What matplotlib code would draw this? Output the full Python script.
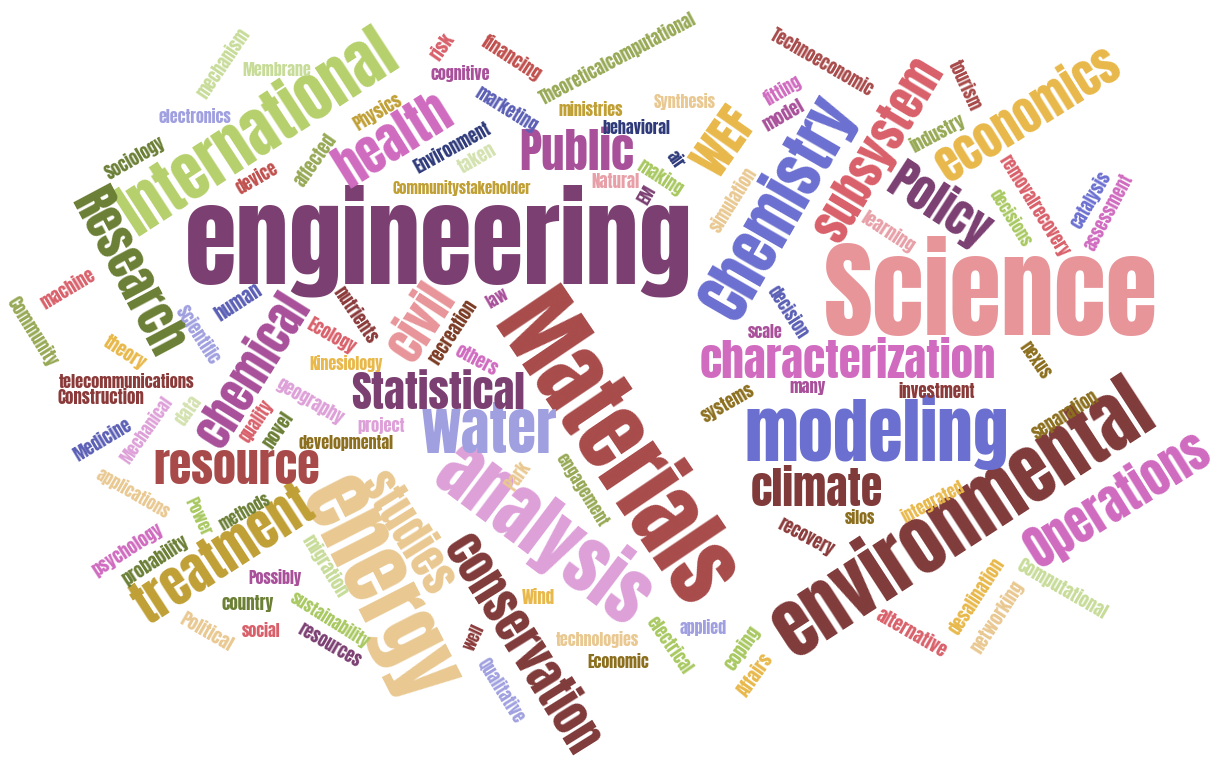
import matplotlib
matplotlib.use("Agg")
import matplotlib.pyplot as plt
from matplotlib import font_manager as fm
from matplotlib.textpath import TextPath
from matplotlib.font_manager import FontProperties

# ---------------- data: words and their weights (reference em size, px) -------------
words = [
    "engineering", "Science", "Materials", "environmental", "energy", "analysis",
    "modeling", "International", "Chemistry", "water", "health", "treatment",
    "Operations", "Public", "Research", "WEF", "economics", "subsystem", "Policy",
    "civil", "chemical", "resource", "studies", "conservation", "characterization",
    "Statistical", "climate",
    "Communitystakeholder", "Synthesis", "mechanism", "Membrane", "electronics",
    "Sociology", "device", "affected", "Physics", "risk", "financing", "cognitive",
    "Theoreticalcomputational", "marketing", "ministries", "behavioral", "Environment",
    "taken", "Natural", "air", "making", "EM", "simulation", "Technoeconomic",
    "fitting", "model", "learning", "tourism", "industry", "removalrecovery",
    "decisions", "catalysis", "assessment", "machine", "Community", "theory",
    "Scientific", "human", "telecommunications", "Construction", "Medicine",
    "Mechanical", "data", "quality", "novel", "geography", "developmental", "project",
    "Kinesiology", "Ecology", "nutrients", "recreation", "law", "others", "Park",
    "engagement", "decision", "scale", "many", "systems", "investment", "nexus",
    "separation", "integrated", "silos", "recovery", "alternative", "desalination",
    "networking", "Computational", "coping", "Affairs", "applied", "electrical",
    "technologies", "Economic", "Wind", "well", "Qualitative", "migration",
    "sustainability", "resources", "methods", "Power", "applications", "psychology",
    "probability", "Possibly", "country", "Political", "social",
]
weights = [
    106, 106, 91, 75, 85, 73,
    71, 62, 60, 59, 50, 51,
    48, 47, 48, 46, 47, 46, 46,
    47, 46, 46, 45, 47, 45,
    43, 44,
    15, 16, 17, 16, 16,
    17, 17, 18, 17, 18, 18, 16,
    17, 17, 16, 16, 17,
    18, 17, 16, 17, 16, 17, 17,
    17, 18, 18, 17, 18, 17,
    16.5, 17, 17, 17.5, 17.5, 18,
    17.5, 19, 16.5, 17, 17.5,
    16.5, 18, 17, 18, 17.5, 16, 16.5,
    16, 17, 17.5, 17.5, 16, 17.5, 17,
    16.5, 17, 16, 16.5, 17, 17, 17,
    17.5, 16.5, 16, 17, 18, 17.5,
    18, 17.5, 18, 18.5, 16, 17,
    16, 16, 17, 16, 17, 18,
    16.5, 17, 16, 16, 16.5, 17.5,
    17.5, 16, 17, 18, 16,
]

# ---------------- palette / layout (styles & placement, kept apart from data) --------
PURPLE, PINK, BRICK, MAROON = "#7B3F72", "#E8959A", "#A84A4A", "#803A3A"
BLUE, LIME, ORCHIDL, TAN = "#6B6FD0", "#B5D06B", "#DDA0D8", "#E9C891"
LAV, ORCHID, MAGENTA, OLIVE = "#A0A0E0", "#D06BC0", "#A8509A", "#6B7F35"
MUSTARD, GOLD, CORAL, NAVY = "#C0A035", "#E8B84A", "#D9606A", "#2E3A7A"
PALEGREEN, GREEN, OLIVEG, DKMUST = "#C8DC9A", "#A8C860", "#97A955", "#8C6F1E"
DKRED, REDBR, PALEPINK, VPALE = "#8B3A3A", "#C0504D", "#E8A0A8", "#D4E2B0"
BLUE2, BROWN = "#5B5FB5", "#7B3A22"

layout = {  # word: (x px, y px, angle deg, colour)
    "engineering": (439, 241, 0, PURPLE),
    "Science": (991, 295, 0, PINK),
    "Materials": (617, 450, -56, BRICK),
    "environmental": (962, 518, 33, MAROON),
    "energy": (380, 588, -63, TAN),
    "analysis": (545, 532, -37, ORCHIDL),
    "modeling": (877, 433, 0, BLUE),
    "International": (257, 132, 33, LIME),
    "Chemistry": (777, 207, 60, BLUE),
    "water": (489, 431, 0, LAV),
    "health": (393, 140, 32, ORCHID),
    "treatment": (223, 555, 33, MUSTARD),
    "Operations": (1117, 499, 32, ORCHID),
    "Public": (577, 153, 0, MAGENTA),
    "Research": (128, 272, -62, OLIVE),
    "WEF": (725, 142, 55, GOLD),
    "economics": (1027, 114, 32, GOLD),
    "subsystem": (878, 150, 59, CORAL),
    "Policy": (940, 205, -33, PURPLE),
    "civil": (421, 322, 57, PINK),
    "chemical": (253, 370, 58, MAGENTA),
    "resource": (237, 468, 0, BRICK),
    "studies": (408, 532, -58, TAN),
    "conservation": (522, 644, -58, MAROON),
    "characterization": (848, 362, 0, ORCHID),
    "Statistical": (438, 393, 0, PURPLE),
    "climate": (817, 490, 0, MAROON),
    "Communitystakeholder": (462, 188, 0, MUSTARD),
    "Synthesis": (685, 102, 0, TAN),
    "mechanism": (223, 63, 56, PALEGREEN),
    "Membrane": (277, 70, 0, PALEGREEN),
    "electronics": (195, 117, 0, LAV),
    "Sociology": (135, 158, 30, OLIVE),
    "device": (257, 178, 30, REDBR),
    "affected": (315, 160, 55, OLIVEG),
    "Physics": (377, 112, 31, MUSTARD),
    "risk": (442, 47, 55, CORAL),
    "financing": (512, 58, -33, REDBR),
    "cognitive": (460, 73, 0, MAGENTA),
    "Theoreticalcomputational": (618, 58, 28, OLIVEG),
    "marketing": (507, 109, -32, BLUE2),
    "ministries": (591, 110, 0, MUSTARD),
    "behavioral": (636, 128, 0, NAVY),
    "Environment": (452, 148, 29, NAVY),
    "taken": (477, 158, 30, VPALE),
    "Natural": (616, 181, 0, PALEPINK),
    "air": (675, 160, -55, NAVY),
    "making": (660, 177, -33, GREEN),
    "EM": (647, 195, 60, PURPLE),
    "simulation": (733, 200, 58, TAN),
    "Technoeconomic": (822, 62, -30, BRICK),
    "fitting": (783, 90, 30, ORCHID),
    "model": (783, 115, 30, MAGENTA),
    "learning": (888, 232, -33, PALEPINK),
    "tourism": (965, 85, -65, BRICK),
    "industry": (937, 133, 28, OLIVEG),
    "removalrecovery": (1034, 206, -58, CORAL),
    "decisions": (1010, 218, -58, GREEN),
    "catalysis": (1090, 200, 60, BLUE),
    "assessment": (1108, 212, 62, ORCHID),
    "machine": (68, 289, 31, CORAL),
    "Community": (33, 331, -58, OLIVEG),
    "theory": (125, 353, -33, GOLD),
    "Scientific": (198, 335, -57, LAV),
    "human": (238, 302, 33, BLUE2),
    "telecommunications": (127, 382, 0, DKRED),
    "Construction": (101, 398, 0, DKRED),
    "Medicine": (103, 440, 31, BLUE2),
    "Mechanical": (147, 430, 55, ORCHIDL),
    "data": (188, 410, 55, VPALE),
    "quality": (256, 421, 56, CORAL),
    "novel": (278, 430, 56, OLIVE),
    "geography": (310, 401, -30, ORCHIDL),
    "developmental": (346, 443, 0, DKMUST),
    "project": (381, 425, 0, ORCHIDL),
    "Kinesiology": (346, 363, 0, GOLD),
    "Ecology": (331, 336, -30, CORAL),
    "nutrients": (356, 315, -56, DKRED),
    "recreation": (453, 332, 57, BROWN),
    "law": (497, 298, 30, MAGENTA),
    "others": (477, 360, -28, ORCHID),
    "Park": (518, 476, 55, TAN),
    "engagement": (582, 490, -58, OLIVEG),
    "decision": (788, 312, -57, BLUE2),
    "scale": (765, 332, 0, MAGENTA),
    "many": (808, 387, 0, MAGENTA),
    "systems": (728, 403, 30, DKMUST),
    "investment": (937, 391, 0, DKRED),
    "nexus": (1035, 360, -55, DKMUST),
    "separation": (1065, 414, 32, DKMUST),
    "integrated": (933, 501, 28, GOLD),
    "silos": (860, 518, 0, DKMUST),
    "recovery": (806, 537, -28, DKRED),
    "alternative": (912, 633, -30, CORAL),
    "desalination": (977, 596, 57, GOLD),
    "networking": (997, 617, 57, TAN),
    "Computational": (1063, 588, -30, PALEGREEN),
    "coping": (742, 648, 55, GREEN),
    "Affairs": (755, 675, 55, GOLD),
    "applied": (703, 627, 0, LAV),
    "electrical": (670, 645, -55, GREEN),
    "technologies": (597, 640, 0, TAN),
    "Economic": (618, 662, 0, DKMUST),
    "Wind": (538, 597, 0, GOLD),
    "well": (474, 637, 65, DKRED),
    "Qualitative": (502, 690, -58, LAV),
    "migration": (325, 566, -58, PALEGREEN),
    "sustainability": (330, 620, -32, GREEN),
    "resources": (330, 645, -30, PURPLE),
    "methods": (245, 512, 30, OLIVE),
    "Power": (198, 516, -65, GREEN),
    "applications": (133, 493, -30, TAN),
    "psychology": (128, 550, 33, ORCHID),
    "probability": (155, 560, 33, OLIVE),
    "Possibly": (275, 577, 0, MAGENTA),
    "country": (248, 603, 0, OLIVE),
    "Political": (207, 632, -30, TAN),
    "social": (261, 631, 0, CORAL),
}

# ---------------- font: a condensed heavy face similar to Impact -----------------
entries = fm.fontManager.ttflist
names = {f.name for f in entries}
font_kw = None
for cand in ["Impact", "Anton", "Oswald", "Liberation Sans Narrow", "Roboto Condensed",
             "Open Sans Condensed"]:
    if cand in names:
        font_kw = dict(family=cand, weight="bold")
        break
if font_kw is None:
    font_kw = dict(family="Roboto", weight="bold")

fp = FontProperties(**font_kw)
# width of "engineering" per em in the reference face (~4.92 em); scale to match
em_w = TextPath((0, 0), "engineering", size=100, prop=fp).get_extents().width / 100.0
scale = 0.96 * 4.92 / em_w

W, H, DPI = 1222, 761, 100
fig = plt.figure(figsize=(W / DPI, H / DPI), dpi=DPI)
ax = fig.add_axes([0, 0, 1, 1])
ax.set_xlim(0, W)
ax.set_ylim(H, 0)
ax.axis("off")

for w, wt in zip(words, weights):
    x, y, ang, col = layout[w]
    ax.text(x, y, w, fontsize=wt * 0.72 * scale, color=col, rotation=ang,
            rotation_mode="anchor", ha="center", va="center", **font_kw)

fig.savefig("out.png", dpi=DPI, facecolor="white")
